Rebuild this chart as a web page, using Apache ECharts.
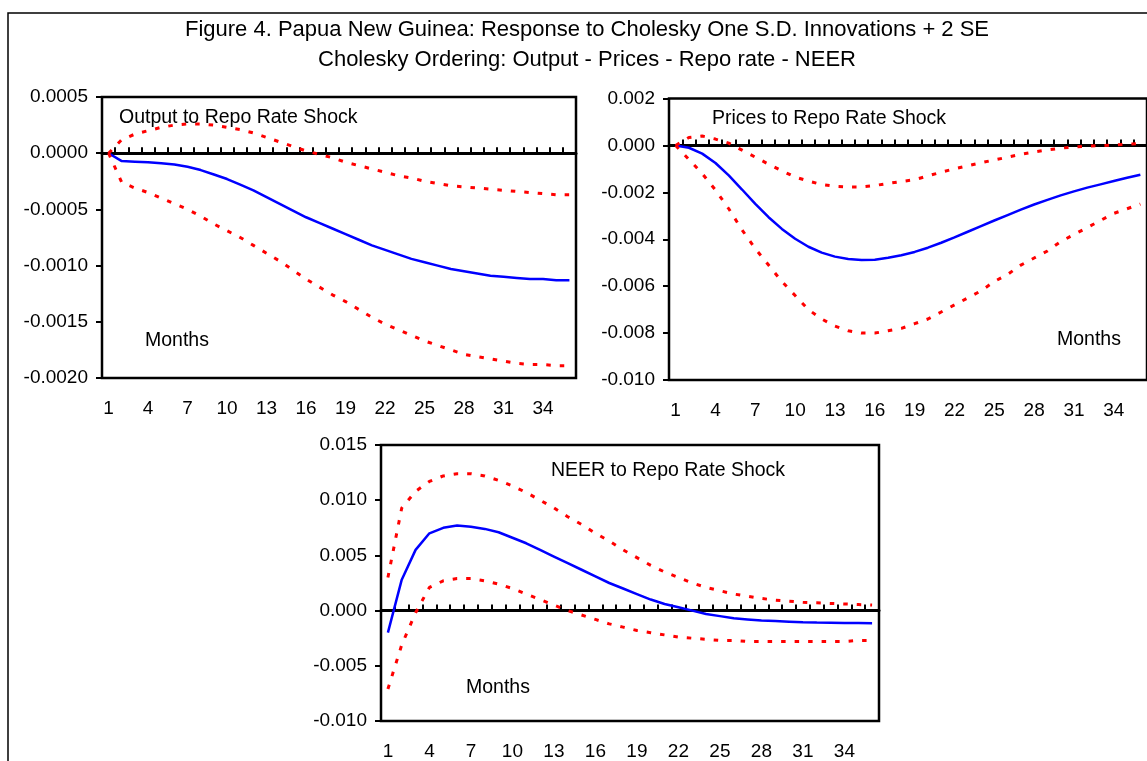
<!DOCTYPE html>
<html>
<head>
<meta charset="utf-8">
<title>Figure 4. Papua New Guinea</title>
<script src="https://cdn.jsdelivr.net/npm/echarts@6/dist/echarts.min.js"></script>
<style>
  html, body { margin: 0; padding: 0; background: #fff; }
  #chart { width: 1147px; height: 761px; }
</style>
</head>
<body>
<div id="chart"></div>
<script>
// months 1..36
var months = ["1","2","3","4","5","6","7","8","9","10","11","12","13","14","15","16","17","18",
  "19","20","21","22","23","24","25","26","27","28","29","30","31","32","33","34","35","36"];

// Output to Repo Rate Shock
var outputResp = [0, -0.00007, -0.000075, -0.00008, -0.00009, -0.0001, -0.00012, -0.00015, -0.00019, -0.00023,
  -0.00028, -0.00033, -0.00039, -0.00045, -0.00051, -0.00057, -0.00062, -0.00067, -0.00072, -0.00077,
  -0.00082, -0.00086, -0.0009, -0.00094, -0.00097, -0.001, -0.00103, -0.00105, -0.00107, -0.00109,
  -0.0011, -0.00111, -0.00112, -0.00112, -0.00113, -0.00113];
var outputUpper = [0, 0.00012, 0.00017, 0.0002, 0.00023, 0.00025, 0.00026, 0.00026, 0.00025, 0.00023,
  0.00021, 0.00018, 0.00014, 0.0001, 0.00006, 0.00002, -0.00001, -0.00004, -0.00008, -0.00011,
  -0.00014, -0.00017, -0.0002, -0.00022, -0.00025, -0.00027, -0.00029, -0.0003, -0.00031, -0.00032,
  -0.00033, -0.00034, -0.00035, -0.00036, -0.00037, -0.00037];
var outputLower = [0, -0.00026, -0.00031, -0.00035, -0.0004, -0.00045, -0.0005, -0.00056, -0.00063, -0.00069,
  -0.00075, -0.00082, -0.00089, -0.00096, -0.00104, -0.00112, -0.00119, -0.00126, -0.00132, -0.00139,
  -0.00146, -0.00152, -0.00157, -0.00162, -0.00167, -0.00171, -0.00175, -0.00179, -0.00181, -0.00183,
  -0.00185, -0.00187, -0.00188, -0.00188, -0.00189, -0.00189];

// Prices to Repo Rate Shock
var pricesResp = [0, -0.0001, -0.00035, -0.00075, -0.00128, -0.00188, -0.00249, -0.00306, -0.00356, -0.00398,
  -0.00432, -0.00457, -0.00474, -0.00484, -0.00488, -0.00487, -0.00479, -0.00468, -0.00454, -0.00436,
  -0.00415, -0.00392, -0.00368, -0.00344, -0.0032, -0.00297, -0.00274, -0.00252, -0.00232, -0.00213,
  -0.00196, -0.0018, -0.00166, -0.00152, -0.00138, -0.00125];
var pricesUpper = [0, 0.00034, 0.0004, 0.00027, 0.0001, -0.0002, -0.0005, -0.0008, -0.00108, -0.00135,
  -0.00152, -0.00167, -0.00174, -0.00177, -0.00177, -0.00171, -0.00162, -0.00154, -0.00146, -0.0013,
  -0.00114, -0.001, -0.00087, -0.00074, -0.00062, -0.0005, -0.00038, -0.00028, -0.00019, -0.00012,
  -0.00006, -0.00003, -0.00001, 0.00002, 0.00005, 0.00008];
var pricesLower = [0, -0.0006, -0.0012, -0.0019, -0.0027, -0.0036, -0.0044, -0.0051, -0.0058, -0.0064,
  -0.007, -0.0074, -0.0077, -0.0079, -0.008, -0.008, -0.0079, -0.0078, -0.0076, -0.0074,
  -0.0071, -0.0068, -0.0065, -0.0062, -0.0058, -0.0055, -0.0051, -0.0048, -0.0045, -0.0041,
  -0.0038, -0.0035, -0.0032, -0.0029, -0.0027, -0.0025];

// NEER to Repo Rate Shock
var neerResp = [-0.002, 0.0028, 0.0055, 0.007, 0.0075, 0.0077, 0.0076, 0.0074, 0.0071, 0.0066,
  0.0061, 0.0055, 0.0049, 0.0043, 0.0037, 0.0031, 0.0025, 0.002, 0.0015, 0.001,
  0.0006, 0.0003, 0.0, -0.0003, -0.0005, -0.0007, -0.0008, -0.0009, -0.00095, -0.001,
  -0.00105, -0.00108, -0.0011, -0.00112, -0.00113, -0.00114];
var neerUpper = [0.003, 0.0093, 0.0108, 0.0117, 0.0122, 0.0124, 0.0124, 0.0122, 0.0118, 0.0113,
  0.0107, 0.01, 0.0093, 0.0085, 0.0078, 0.007, 0.0063, 0.0055, 0.0048, 0.0041,
  0.0035, 0.003, 0.0025, 0.0021, 0.0018, 0.0015, 0.0013, 0.0011, 0.00095, 0.00085,
  0.00075, 0.0007, 0.00065, 0.0006, 0.00055, 0.0005];
var neerLower = [-0.0071, -0.0031, -0.0002, 0.0021, 0.0027, 0.0029, 0.0029, 0.0027, 0.0024, 0.002,
  0.0015, 0.001, 0.0005, 0.0, -0.0004, -0.0008, -0.0012, -0.0015, -0.0018, -0.002,
  -0.0022, -0.0024, -0.0025, -0.0026, -0.0027, -0.0027, -0.0028, -0.0028, -0.0028, -0.0028,
  -0.0028, -0.0028, -0.0028, -0.0028, -0.0027, -0.0027];

var FONT = '"Liberation Sans", Arial, sans-serif';

var panels = [
  { box: { left: 102, top: 97, width: 474, height: 281 }, min: -0.002, max: 0.0005, step: 0.0005, digits: 4,
    resp: outputResp, upper: outputUpper, lower: outputLower },
  { box: { left: 669, top: 98.5, width: 490, height: 281.5 }, min: -0.01, max: 0.002, step: 0.002, digits: 3,
    resp: pricesResp, upper: pricesUpper, lower: pricesLower },
  { box: { left: 381, top: 445, width: 498, height: 283 }, min: -0.01, max: 0.015, step: 0.005, digits: 3,
    resp: neerResp, upper: neerUpper, lower: neerLower }
];

var grid = [], xAxis = [], yAxis = [], series = [];

panels.forEach(function (p, i) {
  grid.push({
    left: p.box.left, top: p.box.top, width: p.box.width, height: p.box.height,
    show: true, borderColor: "#000", borderWidth: 2.5, backgroundColor: "transparent"
  });
  // zero line with little ticks pointing up
  xAxis.push({
    type: "category", gridIndex: i, data: months, position: "top", boundaryGap: true,
    axisLine: { show: true, onZero: true, lineStyle: { color: "#000", width: 3 } },
    axisTick: { show: true, inside: false, length: 6, interval: 0, lineStyle: { color: "#000", width: 2 } },
    axisLabel: { show: false },
    splitLine: { show: false }
  });
  // month labels at the bottom of the box
  xAxis.push({
    type: "category", gridIndex: i, data: months, position: "bottom", boundaryGap: true,
    axisLine: { show: false, onZero: false },
    axisTick: { show: false },
    axisLabel: { interval: 2, margin: 21, color: "#000", fontSize: 19, fontFamily: FONT },
    splitLine: { show: false }
  });
  yAxis.push({
    type: "value", gridIndex: i, min: p.min, max: p.max, interval: p.step,
    axisLine: { show: false },
    axisTick: { show: true, inside: false, length: 6, lineStyle: { color: "#000", width: 2 } },
    axisLabel: {
      margin: 14, color: "#000", fontSize: 19, fontFamily: FONT,
      formatter: function (v) {
        if (Math.abs(v) < 1e-12) v = 0;
        return v.toFixed(p.digits);
      }
    },
    splitLine: { show: false }
  });
  series.push({
    type: "line", xAxisIndex: 2 * i + 1, yAxisIndex: i, data: p.resp,
    showSymbol: false, silent: true, lineStyle: { color: "#0000ff", width: 2.5 }
  });
  series.push({
    type: "line", xAxisIndex: 2 * i + 1, yAxisIndex: i, data: p.upper,
    showSymbol: false, silent: true, lineStyle: { color: "#ff0000", width: 3, type: [4.5, 9] }
  });
  series.push({
    type: "line", xAxisIndex: 2 * i + 1, yAxisIndex: i, data: p.lower,
    showSymbol: false, silent: true, lineStyle: { color: "#ff0000", width: 3, type: [4.5, 9] }
  });
});

function label(text, x, y, size, align) {
  return {
    type: "text", x: x, y: y, silent: true, z: 10,
    style: { text: text, font: size + "px " + FONT, fill: "#000", textAlign: align || "left", textVerticalAlign: "middle" }
  };
}

var option = {
  animation: false,
  backgroundColor: "#fff",
  grid: grid,
  xAxis: xAxis,
  yAxis: yAxis,
  series: series,
  graphic: [
    // outer frame, runs off the right and bottom of the picture
    { type: "rect", silent: true, z: -1, shape: { x: 8, y: 13, width: 1200, height: 800 },
      style: { fill: "none", stroke: "#000", lineWidth: 1.5 } },
    label("Figure 4. Papua New Guinea: Response to Cholesky One S.D. Innovations + 2 SE", 587, 30, 22, "center"),
    label("Cholesky Ordering: Output - Prices - Repo rate - NEER", 587, 60, 22, "center"),
    label("Output to Repo Rate Shock", 119, 118, 19.5),
    label("Months", 145, 341, 19.5),
    label("Prices to Repo Rate Shock", 712, 119, 19.5),
    label("Months", 1057, 340, 19.5),
    label("NEER to Repo Rate Shock", 551, 471, 19.5),
    label("Months", 466, 688, 19.5)
  ]
};

var chart = echarts.init(document.getElementById("chart"));
chart.setOption(option);
</script>
</body>
</html>
